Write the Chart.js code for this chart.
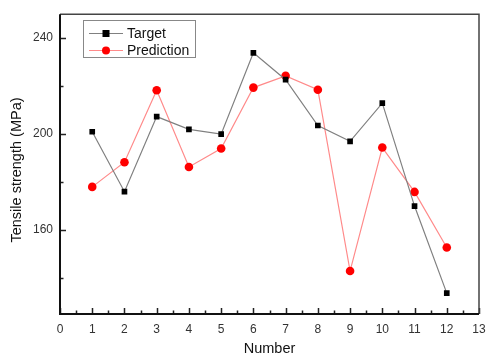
<!DOCTYPE html>
<html>
<head>
<meta charset="utf-8">
<script src="https://cdn.jsdelivr.net/npm/chart.js@4.4.0/dist/chart.umd.min.js"></script>
<style>
  html, body { margin: 0; padding: 0; background: #fff; }
  #wrap { width: 500px; height: 362px; }
</style>
</head>
<body>
<div id="wrap"><canvas id="chart"></canvas></div>
<script>
var numbers = [1, 2, 3, 4, 5, 6, 7, 8, 9, 10, 11, 12];
var target = [201, 176, 207.3, 202, 200, 233.9, 222.7, 203.6, 197, 212.9, 170, 133.7];
var prediction = [178, 188.3, 218.3, 186.3, 194, 219.4, 224.3, 218.5, 142.9, 194.4, 175.9, 152.7];
var xTicks = [0, 0.5, 1, 1.5, 2, 2.5, 3, 3.5, 4, 4.5, 5, 5.5, 6, 6.5, 7, 7.5, 8, 8.5, 9, 9.5, 10, 10.5, 11, 11.5, 12, 12.5, 13];
var yTicks = [140, 160, 180, 200, 220, 240];
var yLabels = [160, 200, 240];

var toPoints = function(vals) {
  return numbers.map(function(n, i) { return {x: n, y: vals[i]}; });
};

// tick marks pointing into the plot, Origin style
var innerTicks = {
  id: 'innerTicks',
  afterDatasetsDraw: function(chart) {
    var ctx = chart.ctx, a = chart.chartArea;
    var xs = chart.scales.x, ys = chart.scales.y;
    ctx.save();
    ctx.strokeStyle = '#222';
    ctx.lineWidth = 1.5;
    ctx.beginPath();
    xTicks.forEach(function(v) {
      var px = Math.round(xs.getPixelForValue(v)) + 0.5;
      var len = (v % 1 === 0) ? 6 : 3.5;
      ctx.moveTo(px, a.bottom);
      ctx.lineTo(px, a.bottom - len);
    });
    yTicks.forEach(function(v) {
      var py = Math.round(ys.getPixelForValue(v)) + 0.5;
      var len = (yLabels.indexOf(v) >= 0) ? 6 : 3.5;
      ctx.moveTo(a.left, py);
      ctx.lineTo(a.left + len, py);
    });
    ctx.stroke();
    // frame
    ctx.strokeStyle = '#444';
    ctx.lineWidth = 1.5;
    ctx.beginPath();
    ctx.moveTo(a.left, a.top);
    ctx.lineTo(a.right, a.top);
    ctx.lineTo(a.right, a.bottom);
    ctx.stroke();
    ctx.strokeStyle = '#111';
    ctx.lineWidth = 2;
    ctx.beginPath();
    ctx.moveTo(a.left, a.top);
    ctx.lineTo(a.left, a.bottom);
    ctx.lineTo(a.right, a.bottom);
    ctx.stroke();

    // axis titles
    ctx.fillStyle = '#111';
    ctx.font = '14.5px "Liberation Sans", Arial, sans-serif';
    ctx.textAlign = 'center';
    ctx.textBaseline = 'middle';
    ctx.fillText('Number', (a.left + a.right) / 2, 349);
    ctx.translate(17, 170);
    ctx.rotate(-Math.PI / 2);
    ctx.fillText('Tensile strength (MPa)', 0, 0);
    ctx.restore();

    // legend box
    ctx.save();
    ctx.strokeStyle = '#888';
    ctx.lineWidth = 1;
    ctx.strokeRect(83.5, 20.5, 112, 37);
    var rows = [
      {label: 'Target', color: '#808080', mark: '#000', y: 33, square: true},
      {label: 'Prediction', color: '#ff8a8a', mark: '#ff0000', y: 50, square: false}
    ];
    rows.forEach(function(r) {
      ctx.strokeStyle = r.color;
      ctx.beginPath();
      ctx.moveTo(89, r.y + 0.5);
      ctx.lineTo(123, r.y + 0.5);
      ctx.stroke();
      ctx.fillStyle = r.mark;
      if (r.square) {
        ctx.fillRect(102.5, r.y - 3, 7, 7);
      } else {
        ctx.beginPath();
        ctx.arc(106, r.y + 0.5, 4, 0, Math.PI * 2);
        ctx.fill();
      }
      ctx.fillStyle = '#111';
      ctx.font = '14px "Liberation Sans", Arial, sans-serif';
      ctx.textAlign = 'left';
      ctx.textBaseline = 'middle';
      ctx.fillText(r.label, 127, r.y + 1);
    });
    ctx.restore();
  }
};

new Chart(document.getElementById('chart').getContext('2d'), {
  type: 'line',
  data: {
    datasets: [
      {
        label: 'Target',
        data: toPoints(target),
        borderColor: '#808080',
        borderWidth: 1.2,
        pointStyle: 'rect',
        pointRadius: 4,
        pointBackgroundColor: '#000',
        pointBorderColor: '#000',
        pointBorderWidth: 0,
        tension: 0
      },
      {
        label: 'Prediction',
        data: toPoints(prediction),
        borderColor: '#ff8a8a',
        borderWidth: 1.2,
        pointStyle: 'circle',
        pointRadius: 4.3,
        pointBackgroundColor: '#ff0000',
        pointBorderColor: '#ff0000',
        pointBorderWidth: 0,
        tension: 0
      }
    ]
  },
  options: {
    responsive: true,
    maintainAspectRatio: false,
    animation: false,
    layout: {padding: {top: 5, right: 21, left: 0, bottom: 0}},
    plugins: {legend: {display: false}, tooltip: {enabled: false}},
    scales: {
      x: {
        type: 'linear',
        min: 0,
        max: 13,
        afterBuildTicks: function(scale) {
          scale.ticks = xTicks.filter(function(v) { return v % 1 === 0; }).map(function(v) { return {value: v}; });
        },
        afterFit: function(scale) { scale.height = 48; },
        grid: {display: false, drawTicks: false},
        border: {display: false},
        ticks: {
          padding: 8,
          maxRotation: 0,
          autoSkip: false,
          color: '#333',
          font: {family: '"Liberation Sans", Arial, sans-serif', size: 12}
        }
      },
      y: {
        min: 125,
        max: 250,
        afterBuildTicks: function(scale) {
          scale.ticks = yLabels.map(function(v) { return {value: v}; });
        },
        afterFit: function(scale) { scale.width = 60; },
        grid: {display: false, drawTicks: false},
        border: {display: false},
        ticks: {
          padding: 7,
          color: '#333',
          font: {family: '"Liberation Sans", Arial, sans-serif', size: 12}
        }
      }
    }
  },
  plugins: [innerTicks]
});
</script>
</body>
</html>
